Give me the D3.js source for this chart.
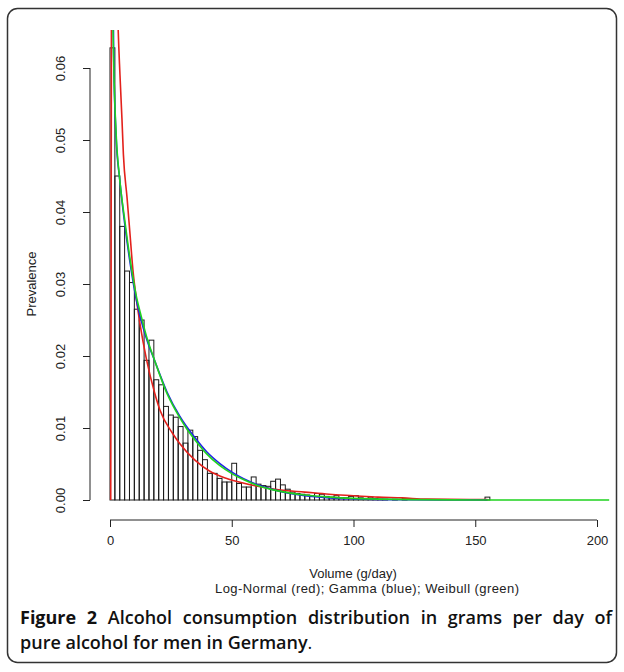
<!DOCTYPE html>
<meta charset='utf-8'>
<style>
	body { margin: 0; background: #fff; }
	text { font-family: 'Liberation Sans', Arial, sans-serif; }
</style>
<body>
	<div id='container'></div>
<script src='https://d3js.org/d3.v7.min.js'></script>
<script>
	// histogram: prevalence per 2 g/day bin, starting at 0
	const binWidth = 2;
	const prevalence = [
		0.0628, 0.0450, 0.0380, 0.0318, 0.0302, 0.0265, 0.0250, 0.0194, 0.0222, 0.0167,
		0.0160, 0.0130, 0.0118, 0.0115, 0.0102, 0.0079, 0.0097, 0.0088, 0.0069, 0.0056,
		0.0037, 0.0037, 0.0030, 0.0025, 0.0025, 0.0051, 0.0023, 0.0018, 0.0018, 0.0032,
		0.0022, 0.0020, 0.0019, 0.0026, 0.0029, 0.0021, 0.0015, 0.0011, 0.0009, 0.0008,
		0.0007, 0.0006, 0.0009, 0.0008, 0.0005, 0.0004, 0.0006, 0.0003, 0.0003, 0.0005,
		0.0006, 0.0003, 0.0002, 0.0004, 0.0002, 0.0001, 0.0001, 0, 0.0001, 0,
		0.0002, 0, 0, 0, 0, 0, 0, 0, 0, 0,
		0, 0, 0, 0, 0, 0, 0, 0.0004,
	];

	// fitted densities, [g/day, density]
	const logNormal = [
		[0.3, 0], [0.45, 0.03], [0.6, 0.07], [1.3, 0.092], [2.4, 0.08], [3.3, 0.066],
		[4.1, 0.059], [4.9, 0.053], [5.5, 0.048], [7, 0.042], [8.2, 0.037], [9.4, 0.032],
		[11, 0.0275], [12.3, 0.0245], [15, 0.0195], [18.4, 0.0148], [20.5, 0.0125],
		[25.8, 0.0092], [28.7, 0.0078], [35, 0.0055], [41, 0.004], [47, 0.0031],
		[53, 0.0025], [60.6, 0.0019], [70, 0.0014], [80, 0.0011], [90, 0.0008],
		[100, 0.0006], [110, 0.0004], [120, 0.0003], [130, 0.00012], [155, 0.00005],
	];
	const gamma = [
		[0.8, 0.09], [1.5, 0.062], [2.5, 0.0505], [4, 0.0445], [6, 0.0385], [8, 0.0335],
		[11, 0.0275], [15, 0.0224], [18.4, 0.0193], [23.4, 0.015], [28.7, 0.0116],
		[35, 0.0086], [39.7, 0.0067], [45, 0.0051], [50.4, 0.0038], [60, 0.0022],
		[70, 0.0012], [80, 0.0006], [90, 0.0003], [100, 0.00015], [120, 0.00003], [155, 0],
	];
	const weibull = [
		[0.6, 0.1], [1.0, 0.072], [1.5, 0.061], [2.5, 0.051], [4, 0.0445], [6, 0.039],
		[8, 0.034], [11, 0.028], [12.3, 0.0262], [15, 0.0227], [18.4, 0.0193],
		[23.4, 0.0148], [28.7, 0.0114], [31.5, 0.0099], [35, 0.0083], [39.7, 0.0064],
		[45, 0.0048], [50.4, 0.0036], [55, 0.0028], [60, 0.0021], [70, 0.0012],
		[80, 0.0007], [90, 0.0004], [100, 0.00022], [110, 0.00012], [125, 0.00005],
		[150, 0.00001], [205, 0],
	];

	const xTicks = [0, 50, 100, 150, 200];
	const yTicks = [0, 0.01, 0.02, 0.03, 0.04, 0.05, 0.06];

	const W = 624, H = 672;

	let xScale = d3.scaleLinear()
		.domain( [0, 200] )
		.range( [110, 597] );
	let yScale = d3.scaleLinear()
		.domain( [0, 0.06] )
		.range( [500, 68] );

	let svg = d3.select( '#container' )
		.append( 'svg' )
		.attr( 'width', W )
		.attr( 'height', H );

	// outer frame
	svg.append( 'rect' )
		.attr( 'x', 7.5 ).attr( 'y', 8.5 )
		.attr( 'width', 609 ).attr( 'height', 654 )
		.attr( 'rx', 10 )
		.style( 'fill', 'none' )
		.style( 'stroke', '#333' )
		.style( 'stroke-width', 1.5 );

	svg.append( 'defs' ).append( 'clipPath' )
		.attr( 'id', 'plot' )
		.append( 'rect' )
			.attr( 'x', 90 ).attr( 'y', 30 )
			.attr( 'width', 526 ).attr( 'height', 490 );

	// histogram
	svg.append( 'g' )
		.selectAll( 'rect' )
		.data( prevalence )
		.enter().append( 'rect' )
			.attr( 'x', ( d, i ) => xScale( i * binWidth ) )
			.attr( 'y', d => yScale( d ) )
			.attr( 'width', ( d, i ) => xScale( ( i + 1 ) * binWidth ) - xScale( i * binWidth ) )
			.attr( 'height', d => yScale( 0 ) - yScale( d ) )
			.style( 'fill', 'none' )
			.style( 'stroke', '#1a1a1a' )
			.style( 'stroke-width', 1 );

	let curve = d3.line()
		.curve( d3.curveMonotoneX )
		.x( d => xScale( d[0] ) )
		.y( d => yScale( d[1] ) );

	let lines = svg.append( 'g' )
		.attr( 'clip-path', 'url(#plot)' );

	[ [logNormal, '#e3211c'], [gamma, '#2020e8'], [weibull, '#1fd21f'] ].forEach( ( [data, color] ) => {
		lines.append( 'path' )
			.attr( 'd', curve( data ) )
			.style( 'fill', 'none' )
			.style( 'stroke', color )
			.style( 'stroke-width', 1.6 );
	} );

	// x axis
	let xAxis = d3.axisBottom( xScale )
		.tickValues( xTicks )
		.tickSize( 7 )
		.tickPadding( 9 )
		.tickFormat( d3.format( 'd' ) );
	let xAxisEl = svg.append( 'g' )
		.attr( 'transform', 'translate( 0, 520 )' )
		.call( xAxis );
	xAxisEl.select( '.domain' ).attr( 'd', `M${xScale( 0 )},0H${xScale( 200 )}` );

	// y axis
	let yAxis = d3.axisLeft( yScale )
		.tickValues( yTicks )
		.tickSize( 7 )
		.tickFormat( d3.format( '.2f' ) );
	let yAxisEl = svg.append( 'g' )
		.attr( 'transform', 'translate( 90, 0 )' )
		.call( yAxis );
	yAxisEl.select( '.domain' ).attr( 'd', `M0,${yScale( 0 )}V${yScale( 0.06 )}` );
	yAxisEl.selectAll( '.tick text' )
		.attr( 'x', null ).attr( 'dy', null )
		.attr( 'transform', 'translate( -30, 0 ) rotate( -90 )' )
		.attr( 'dy', '0.35em' )
		.style( 'text-anchor', 'middle' );

	[xAxisEl, yAxisEl].forEach( g => {
		g.selectAll( 'text' )
			.style( 'font-family', "'Liberation Sans', Arial, sans-serif" )
			.style( 'font-size', '13px' )
			.style( 'fill', '#222' );
		g.selectAll( 'line, path' ).style( 'stroke', '#222' );
	} );

	// axis titles
	svg.append( 'text' )
		.attr( 'transform', 'translate( 36, 284 ) rotate( -90 )' )
		.style( 'text-anchor', 'middle' )
		.style( 'font-size', '13px' )
		.style( 'fill', '#222' )
		.text( 'Prevalence' );

	svg.append( 'text' )
		.attr( 'x', 353 ).attr( 'y', 578 )
		.style( 'text-anchor', 'middle' )
		.style( 'font-size', '13px' )
		.style( 'fill', '#222' )
		.text( 'Volume (g/day)' );

	svg.append( 'text' )
		.attr( 'x', 367 ).attr( 'y', 593 )
		.attr( 'textLength', 304 )
		.style( 'text-anchor', 'middle' )
		.style( 'font-size', '13px' )
		.style( 'fill', '#222' )
		.text( 'Log-Normal (red); Gamma (blue); Weibull (green)' );

	// caption, first line justified by word spacing
	const capFont = "'Open Sans', 'Noto Sans', sans-serif";
	let cap = svg.append( 'text' )
		.attr( 'x', 20 ).attr( 'y', 624 )
		.style( 'font-family', capFont )
		.style( 'font-size', '18px' )
		.style( 'fill', '#111' );
	cap.append( 'tspan' ).style( 'font-weight', 700 ).text( 'Figure 2' );
	cap.append( 'tspan' ).style( 'font-weight', 600 ).text( ' Alcohol consumption distribution in grams per day of' );
	let capW = cap.node().getComputedTextLength();
	cap.style( 'word-spacing', `${( 592 - capW ) / 9}px` );

	let cap2 = svg.append( 'text' )
		.attr( 'x', 20 ).attr( 'y', 649 )
		.style( 'font-family', capFont )
		.style( 'font-size', '18px' )
		.style( 'fill', '#111' );
	cap2.append( 'tspan' ).style( 'font-weight', 600 ).text( 'pure alcohol for men in Germany' );
	cap2.append( 'tspan' ).style( 'font-weight', 400 ).text( '.' );
</script>
</body>
